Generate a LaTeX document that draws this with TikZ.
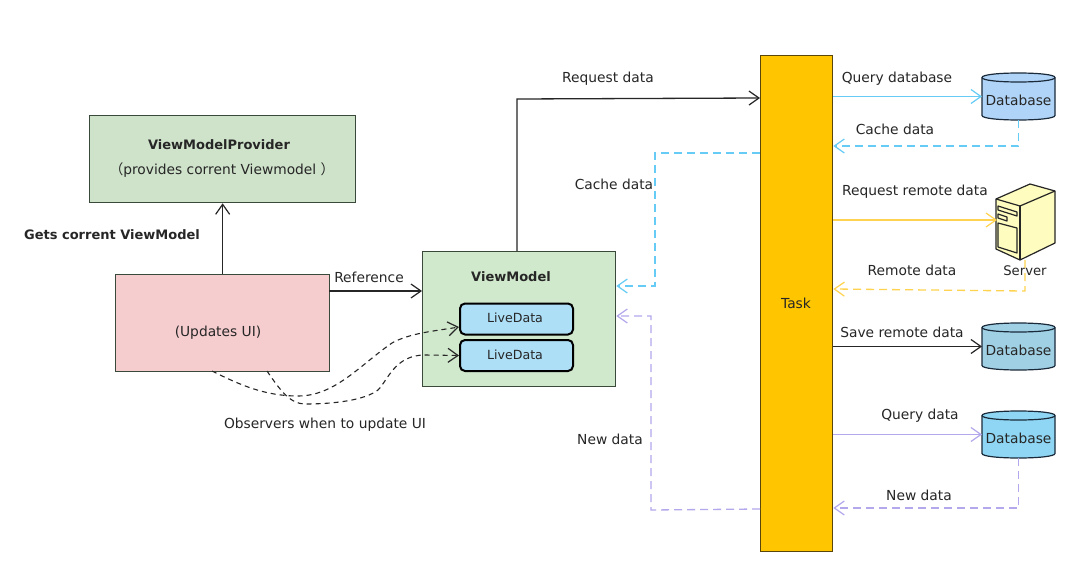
\documentclass[tikz,border=0pt]{standalone}
\usepackage{fontspec}
\setmainfont{DejaVu Sans}[Scale=1]
\newfontfamily\cjkfont{Noto Sans CJK SC}
\usetikzlibrary{arrows.meta,calc}
\definecolor{cya}{HTML}{66CCF5}
\definecolor{yel}{HTML}{FFD34F}
\definecolor{pur}{HTML}{B4A8EC}
\definecolor{edge}{HTML}{3A4A3A}
\definecolor{liveb}{HTML}{ADDFF7}
\definecolor{dbline}{HTML}{1A2A3A}
\newcommand{\cylbody}[2]{%
 \filldraw[fill=#2,draw=dbline,line width=1.2pt]
  ($(#1.north west)+(0,4.5)$) -- ($(#1.south west)+(0,-4.5)$)
  .. controls ($(#1.south west)+(0,1.5)$) and ($(#1.south east)+(0,1.5)$) .. ($(#1.south east)+(0,-4.5)$)
  -- ($(#1.north east)+(0,4.5)$)
  .. controls ($(#1.north east)+(0,-1.5)$) and ($(#1.north west)+(0,-1.5)$) .. cycle;
 \draw[draw=dbline,line width=1.2pt]
  ($(#1.north west)+(0,4.5)$) .. controls ($(#1.north west)+(0,10.5)$) and ($(#1.north east)+(0,10.5)$) .. ($(#1.north east)+(0,4.5)$);
}
\tikzset{
 x=1pt,y=-1pt,
 every node/.style={font=\fontsize{13.8}{16}\selectfont,text=black!85,inner sep=0pt},
 boldlab/.style={font=\fontsize{13}{15}\selectfont\bfseries},
 box/.style={draw=edge,line width=1.3pt,anchor=north west,align=center},
 live/.style={draw=black,line width=2pt,rounded corners=5pt,fill=liveb,anchor=north west,minimum width=113pt,minimum height=31pt},
 dbase/.style={minimum width=73pt,minimum height=47pt,outer sep=0pt,anchor=center},
 conn/.style={line width=1.3pt,-{Straight Barb[length=10pt,width=14pt,line width=1.2pt]}},
 ret/.style={conn,dash pattern=on 8pt off 5pt},
 obs/.style={conn,draw=black!85,line width=1.1pt,dash pattern=on 5pt off 4pt},
 lab/.style={anchor=center},
 small/.style={font=\fontsize{12.6}{15}\selectfont},
}
\begin{document}
\begin{tikzpicture}
\useasboundingbox (0,0) rectangle (1080,570);
\fill[white] (0,0) rectangle (1080,570);
% boxes
\node[box,fill={rgb,255:red,207;green,226;blue,202},minimum width=266pt,minimum height=87pt] (prov) at (89,115) {};
\node[boldlab] (provt) at (219,145) {ViewModelProvider};
\node (provs) at (222,170) {{\cjkfont （}provides corrent Viewmodel {\cjkfont ）}};
\node[box,fill={rgb,255:red,246;green,205;blue,207},minimum width=214pt,minimum height=97pt] (ui) at (115,274) {};
\node (uit) at (218,333) {(Updates UI)};
\node[box,fill={rgb,255:red,208;green,232;blue,203},minimum width=193pt,minimum height=135pt] (vm) at (422,251) {};
\node[boldlab] (vmt) at (511,277) {ViewModel};
\node[live] (l1) at (459,302.5) {}; \node[small] (l1t) at (515,318) {LiveData};
\node[live] (l2) at (459,339) {}; \node[small] (l2t) at (515,354.5) {LiveData};
\node[box,fill={rgb,255:red,255;green,198;blue,0},draw={rgb,255:red,90;green,70;blue,10},minimum width=72pt,minimum height=496pt] (task) at (760,55) {};
\node (taskt) at (796,303) {Task};
% databases
\node[dbase] (db1) at (1018.5,96.5) {};
\cylbody{db1}{{rgb,255:red,176;green,212;blue,247}}
\node (db1t) at (1018.5,100) {Database};
\node[dbase] (db2) at (1018.5,346.5) {};
\cylbody{db2}{{rgb,255:red,160;green,208;blue,228}}
\node (db2t) at (1018.5,350.5) {Database};
\node[dbase] (db3) at (1018.5,434.5) {};
\cylbody{db3}{{rgb,255:red,142;green,214;blue,243}}
\node (db3t) at (1018.5,438) {Database};
% server
\coordinate (srvw) at (997,220);
\coordinate (srvb) at (1025,260);
\begin{scope}[line width=1.2pt,draw=black!85,line join=round]
\fill[yellow!25!white,draw=black!85] (996,199) -- (1030,184) -- (1055,191) -- (1055,243) -- (1020,260) -- (996,249) -- cycle;
\draw (996,199) -- (1020,206) -- (1055,191);
\draw (1020,206) -- (1020,260);
\draw (998,206) -- (1017,212) -- (1017,216) -- (998,210) -- cycle;
\draw (998,214) -- (1007,217) -- (1007,221) -- (998,218) -- cycle;
\draw (998,223) -- (1017,228) -- (1017,253) -- (998,247) -- cycle;
\end{scope}
\node[font=\fontsize{13.2}{15}\selectfont] (srvt) at (1025,271) {Server};
% left connectors
\draw[conn,draw=black!85] (ui.north -| prov.south) -- (prov.south);
\draw[conn,draw=black!85] (329,291) coordinate (uir) -- (uir -| vm.west);
\draw[conn,draw=black!85] (517,251) coordinate (vmtop) -- (vmtop |- 0,99) -- (760,98);
\coordinate (o1) at (212,371);
\coordinate (o2) at (267,371);
\coordinate (e1) at (459,327);
\draw[obs] (o1) .. controls (240,385) and (265,396) .. (298,396) .. controls (335,396) and (360,365) .. (392,343) .. controls (410,333) and (435,331) .. (e1);
\draw[obs] (o2) .. controls (280,390) and (290,404) .. (305,404) .. controls (335,404) and (365,400) .. (378,390) .. controls (388,380) and (395,355) .. (425,355) -- (l2.west);
% right connectors, task to stores
\draw[conn,draw=cya] (task.east |- db1.west) -- (db1.west);
\draw[ret,draw=cya] (db1.south) -- (db1.south |- 0,146) -- (task.east |- 0,146);
\draw[ret,draw=cya] (760,153) coordinate (cs) -- (655,153) -- (655,286) -- (vm.east |- 0,286);
\draw[conn,draw=yel] (task.east |- srvw) -- (srvw);
\draw[ret,draw=yel] (srvb) -- (1025,291) -- (task.east |- 0,289);
\draw[conn,draw=black!85] (task.east |- db2.west) -- (db2.west);
\draw[conn,draw=pur] (task.east |- db3.west) -- (db3.west);
\draw[ret,draw=pur] (db3.south) -- (db3.south |- 0,508) -- (task.east |- 0,508);
\draw[ret,draw=pur] (760,509) coordinate (ns) -- (651,510) -- (651,316) -- (vm.east |- 0,316);
% labels
\node[boldlab,lab] (g) at (112,235) {Gets corrent ViewModel};
\node[lab] (r) at (369,277) {Reference};
\node[lab] (ob) at (325,425) {Observers when to update UI};
\node[lab] (rd) at (608,79) {Request data};
\node[lab] (cd1) at (614,184) {Cache data};
\node[lab] (nd1) at (610,439) {New data};
\node[lab] (qd) at (897,79) {Query database};
\node[lab] (cd2) at (895,129) {Cache data};
\node[lab] (rrd) at (915,192) {Request remote data};
\node[lab] (remd) at (912,270) {Remote data};
\node[lab] (srd) at (902,332) {Save remote data};
\node[lab] (qy) at (920,416) {Query data};
\node[lab] (nd2) at (919,495) {New data};
\end{tikzpicture}
\end{document}
